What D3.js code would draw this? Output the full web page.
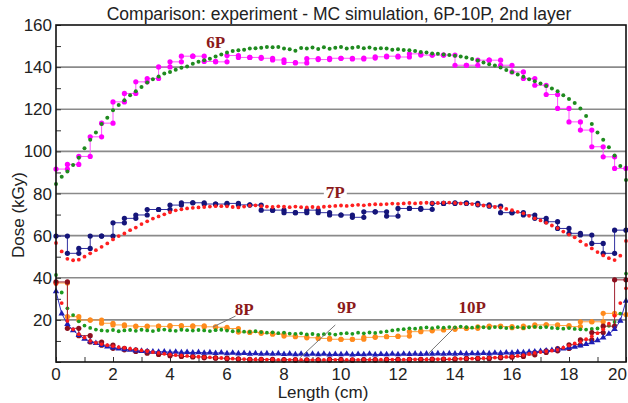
<!DOCTYPE html>
<html>
<head>
<meta charset="utf-8">
<script src="https://cdn.jsdelivr.net/npm/d3@7"></script>
<style>
body { margin: 0; background: #fff; }
text { font-family: "Liberation Sans", Arial, sans-serif; }
</style>
</head>
<body>
<script>
// MC simulation: one value every 0.2 cm (0..20)
var mcStep = 0.2;
// measurements: one value per 0.4 cm bin
var expStep = 0.4;

var mc6P = [84.5,88,90.5,93.5,97,101.5,105.5,109,113,116,119.5,122,124.3,126.7,128.5,130.6,132.7,134.3,135.6,137,
  137.7,138.7,139.7,140.3,141.6,142.5,143.3,144,145,146,146.9,147.6,148,148.2,148.8,149,149.2,149.6,149.4,149.5,
  148.9,148.5,147.8,149.1,148.8,149.3,148.6,149.4,148.7,149.2,149.5,148.8,149.2,149.5,149,149.3,148.7,149,148.8,148.3,
  148.5,148.1,148,147.6,147.2,146.9,146.5,146.3,146,145.8,145.4,145,144.6,143.9,143.2,142.2,141.4,140.8,139.8,138.6,
  137.6,136.5,135.4,134.3,133.3,132.2,131,129.9,128.6,126.7,124.9,123,120.3,116.8,113,109,105.5,102,98,93,86.4];

var exp6P = [91.6,93.8,97.6,106.9,113.4,123.5,127.5,133,134.6,140.1,142.5,145.2,145.2,142.7,142.5,145.5,144.6,144.6,144.2,143.4,
  142.2,142,144,143.6,144.2,144.2,143.9,144.3,144.9,145.2,144.8,146.3,145.7,145.7,145.7,140.9,140.9,143.3,143.3,140.9,
  137.7,134.6,131.4,127,120.4,114,110.1,102.2,97.4,91.9];

var mc7P = [56.5,52.5,49,48.3,48.6,50,51.6,53.1,54.7,56.3,58.2,59.8,61,62.6,63.8,65.5,66.8,68.1,69.1,70.1,
  71.1,72,72.5,72.9,73.2,73.4,73.6,73.8,74,74,73.9,73.6,73.4,73.8,74.2,74.4,74,73.8,73.6,73.9,
  73.7,73.5,73.8,73.5,73.4,73.6,73.4,73.7,73.9,74.1,74.3,74.1,74.4,74.6,74.4,74.7,74.9,74.8,75,75.2,
  75.1,75.3,75.5,75.3,75.5,75.6,75.4,75.5,75.6,75.7,75.5,75.3,75.2,75,74.7,74.3,74,73.6,73.2,72.7,
  72.1,71.3,70.6,69.4,68.2,67.2,66.1,64.8,63.6,61.9,60.5,59.2,57.3,55.6,53.9,52.2,50.6,49.3,48.4,50.5,57.5];

var exp7P = [59.8,51.6,53.9,59.8,59.8,66.1,68.2,69.8,72.4,72.4,74.5,75.6,75.6,75,75,75.3,74.6,74.5,72.1,72.1,
  70.9,70.9,72.1,70.9,69.8,69.8,68.7,71.3,71.3,69.3,72.9,72.9,72.5,75.3,75.3,75.6,75.3,74.6,74,70.9,
  70.9,69.8,68.2,66.6,63.4,61.1,60.3,56.3,51.6,62.6];

var mc8P = [41.3,33,25.5,22.3,19.3,17.3,16.2,15.4,15,14.8,15.2,14.6,15,15.2,14.8,15.3,15,14.7,15.2,15.4,
  15,14.8,15.3,15.1,14.9,15.2,15,14.7,15.1,15.3,14.9,14.6,14.8,14.4,14.3,14.6,14.2,13.9,14.1,13.7,
  13.9,13.5,13.4,13.6,13.1,13.3,12.9,13.2,13.4,13,13.5,13.7,13.4,13.9,13.6,14,13.8,14.2,14.5,15,
  15.3,15.6,16,15.8,16.2,16.4,16.1,16.5,16.3,16.6,16.4,16.8,16.5,16.3,16.7,16.5,16.2,16.6,16.4,16.1,
  16.3,16.6,16.2,16.5,16.7,16.4,16.6,16.2,16,15.8,16.1,15.7,15.5,15.4,15.7,15.9,16.3,17.2,19,23,42];

var exp8P = [37.5,21.5,19.9,19.9,18.4,17.6,17.1,16.8,17.1,16.9,17.3,16.9,17.2,16.7,16.5,15.9,14.2,14,13.6,13.2,
  12.3,12,11.5,11.2,10.8,10.8,10.8,11.7,12,12.1,12.3,14.4,14.8,15.2,15.5,16,16,16.7,17.1,16.8,
  16.3,17,17.6,17.6,17.3,16.8,19.1,19.1,23.1,22.5];

var mc9P = [37,28,19.5,15.5,13.2,11.6,10,9.1,8.5,8,7.5,7.1,6.7,6.3,5.9,5.5,5.1,4.7,4.3,3.9,
  3.6,3.3,3.1,2.9,2.7,2.5,2.3,2.2,2,1.9,1.7,1.6,1.5,1.4,1.3,1.2,1.3,1.1,1.2,1,
  1.1,1,1.2,1,1.1,0.9,1.1,1,1.2,1,1.1,1,1.2,1,1.1,1,1.2,1.1,1.3,1.1,
  1.2,1.1,1.3,1.2,1.4,1.2,1.4,1.3,1.5,1.4,1.6,1.5,1.7,1.6,1.8,1.8,2,2.1,2.3,2.4,
  2.6,2.9,3.3,3.8,4.3,4.7,5.1,5.4,5.8,6.8,7.8,8.8,9.6,10.8,12.2,13.7,15.5,18.2,22,28,35];

var exp9P = [38,16,12.5,9.5,8,6.5,5.8,5,4.2,3.6,3,2.6,2.4,2,1.8,1.5,1.3,1,1.2,0.9,
  1.1,0.8,1,0.9,1.2,0.8,1,1.1,0.9,1.2,1,1.3,1.1,1.4,1.2,1.5,1.7,1.6,2,2.3,
  2.6,3.4,4.5,5.3,6.4,8.2,10.5,14,17,39];

var mc10P = [33.5,23,18,15,12.8,11,9.8,8.9,8,7.3,6.8,6.4,6,5.7,5.4,5.2,5,4.9,4.8,4.9,
  4.6,4.8,4.5,4.7,4.4,4.6,4.3,4.5,4.2,4.4,4.1,4.3,4,4.2,3.9,4.1,3.8,4,3.8,4,
  3.7,3.9,3.6,3.8,3.5,3.8,3.6,3.8,3.5,3.7,3.6,3.8,3.5,3.7,3.6,3.8,3.5,3.7,3.6,3.8,
  3.6,3.8,3.7,3.9,3.7,3.9,3.8,4,3.8,4,3.9,4.1,3.9,4.1,4,4.2,4,4.3,4.2,4.4,
  4.3,4.6,4.5,4.8,4.9,5.1,5.3,5.6,5.9,6.3,6.7,7.2,7.8,8.5,9.3,10.3,11.6,13.3,15.6,19.5,29];

var xTicks = [0,2,4,6,8,10,12,14,16,18,20];
var yTicks = [20,40,60,80,100,120,140,160];
var gridLines = [20,40,60,80,100,120,140];

// curve labels: text, label position (cm, kGy), optional leader line
var labelNames = ["6P","7P","8P","9P","10P"];
var labelX = [5.6, 9.8, 6.6, 10.2, 14.6];
var labelY = [149, 77.8, 22.4, 23.2, 23.2];
var leaderFrom = [null, null, [6.3,21.8], [9.8,17.6], [14.0,16.6]];
var leaderTo = [null, null, [5.5,16.6], [8.55,1.9], [13.05,3.8]];

var W = 628, H = 403;
var svg = d3.select("body").append("svg").attr("width", W).attr("height", H);

var x = d3.scaleLinear().domain([0,20]).range([56,626]);
var y = d3.scaleLinear().domain([0,160]).range([362,25]);

//网格线
svg.selectAll("line.grid").data(gridLines).enter().append("line")
    .attr("class","grid")
    .attr("x1", x(0)).attr("x2", x(20))
    .attr("y1", function(d){ return y(d); })
    .attr("y2", function(d){ return y(d); })
    .attr("stroke", "#8a8a8a").attr("stroke-width", 1.6);

// ticks pointing into the plot
var xAxis = d3.axisTop(x).tickValues(d3.range(0,21,1)).tickSize(5).tickFormat("");
svg.append("g").attr("transform","translate(0," + y(0) + ")").call(xAxis)
    .call(function(g){ g.select(".domain").remove(); g.selectAll("line").attr("stroke","#333"); });
var yAxis = d3.axisRight(y).tickValues(d3.range(0,161,10)).tickSize(5).tickFormat("");
svg.append("g").attr("transform","translate(" + x(0) + ",0)").call(yAxis)
    .call(function(g){ g.select(".domain").remove(); g.selectAll("line").attr("stroke","#333"); });

// tick labels (the last one is kept inside the window)
svg.selectAll("text.xt").data(xTicks).enter().append("text")
    .attr("x", function(d){ return d == 20 ? W - 1 : x(d); }).attr("y", 380)
    .attr("text-anchor", function(d){ return d == 20 ? "end" : "middle"; })
    .attr("font-size", 17).attr("fill","#222")
    .text(function(d){ return d; });
svg.selectAll("text.yt").data(yTicks).enter().append("text")
    .attr("x", 52).attr("y", function(d){ return y(d) + 6; })
    .attr("text-anchor","end").attr("font-size", 17).attr("fill","#222")
    .text(function(d){ return d; });

function stepPoints(vals, dx) {
    var pts = [];
    for (var i = 0; i < vals.length; i++) {
        pts.push([i*dx, vals[i]]);
        pts.push([(i+1)*dx, vals[i]]);
    }
    return pts;
}
function mcPoints(vals, dx) {
    return vals.map(function(v, i){ return [i*dx, v]; });
}

var line = d3.line().x(function(d){ return x(d[0]); }).y(function(d){ return y(d[1]); });

function drawExp(vals, color, lineColor, r) {
    var pts = stepPoints(vals, expStep);
    svg.append("path").attr("d", line(pts)).attr("fill","none")
        .attr("stroke", lineColor).attr("stroke-width", 1);
    svg.append("g").selectAll("circle").data(pts).enter().append("circle")
        .attr("cx", function(d){ return x(d[0]); })
        .attr("cy", function(d){ return y(d[1]); })
        .attr("r", r).attr("fill", color);
}
function drawMC(vals, color, r) {
    svg.append("g").selectAll("circle").data(mcPoints(vals, mcStep)).enter().append("circle")
        .attr("cx", function(d){ return x(d[0]); })
        .attr("cy", function(d){ return y(d[1]); })
        .attr("r", r).attr("fill", color);
}

drawExp(exp6P, "#ff00ff", "#ff55ff", 2.6);
drawMC(mc6P, "#1f8a1f", 2.0);
drawExp(exp7P, "#15157a", "#3030a0", 2.6);
drawMC(mc7P, "#ff2020", 1.9);
drawExp(exp8P, "#ff8a1c", "#ffa040", 2.6);
drawMC(mc8P, "#1f9a1f", 1.9);
drawExp(exp9P, "#8b0f1e", "#a02030", 2.6);

// 10P: triangles on a thin line
var tri = mcPoints(mc10P, mcStep);
svg.append("path").attr("d", line(tri)).attr("fill","none").attr("stroke","#3030c0").attr("stroke-width",1);
svg.append("g").selectAll("path").data(tri).enter().append("path")
    .attr("d", d3.symbol().type(d3.symbolTriangle).size(18))
    .attr("transform", function(d){ return "translate(" + x(d[0]) + "," + y(d[1]) + ")"; })
    .attr("fill", "#1e1eb4");
drawMC(mc9P, "#ff1a1a", 1.9);

// 外框
svg.append("rect").attr("x", x(0)).attr("y", y(160))
    .attr("width", x(20) - x(0)).attr("height", y(0) - y(160))
    .attr("fill","none").attr("stroke","#111").attr("stroke-width", 1.6);

// leader lines and labels
for (var i = 0; i < labelNames.length; i++) {
    if (leaderFrom[i]) {
        svg.append("line")
            .attr("x1", x(leaderFrom[i][0])).attr("y1", y(leaderFrom[i][1]))
            .attr("x2", x(leaderTo[i][0])).attr("y2", y(leaderTo[i][1]))
            .attr("stroke", "#777").attr("stroke-width", 1);
    }
    var t = svg.append("text")
        .attr("x", x(labelX[i])).attr("y", y(labelY[i]))
        .attr("text-anchor","middle")
        .style("font-family", "'Liberation Serif', 'Times New Roman', serif")
        .style("font-weight","bold").style("font-size", "17px")
        .attr("fill", "#8b1a1a")
        .text(labelNames[i]);
    if (labelNames[i] == "7P") {
        var bb = t.node().getBBox();
        svg.insert("rect", function(){ return t.node(); })
            .attr("x", bb.x - 2).attr("y", bb.y + 2)
            .attr("width", bb.width + 4).attr("height", bb.height - 4)
            .attr("fill", "#fff");
    }
}

// title and axis titles
svg.append("text").attr("x", 339).attr("y", 20).attr("text-anchor","middle")
    .attr("font-size", 17.5).attr("fill","#222")
    .text("Comparison: experiment - MC simulation, 6P-10P, 2nd layer");
svg.append("text").attr("x", 323).attr("y", 398).attr("text-anchor","middle")
    .attr("font-size", 17).attr("fill","#222").text("Length (cm)");
svg.append("text").attr("transform","translate(24,215) rotate(-90)")
    .attr("text-anchor","middle").attr("font-size", 17).attr("fill","#222")
    .text("Dose (kGy)");
</script>
</body>
</html>
